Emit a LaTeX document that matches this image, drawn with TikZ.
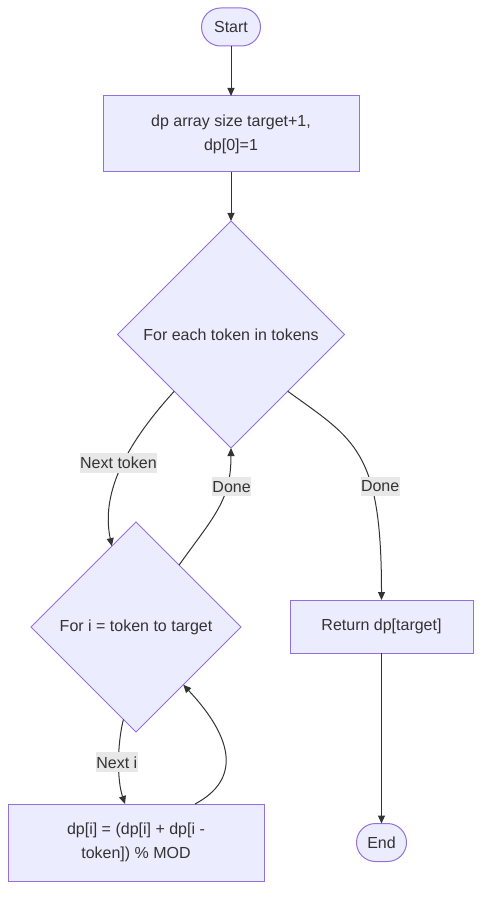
\documentclass[tikz,border=0pt]{standalone}
\usepackage{fontspec}
\setmainfont{Liberation Sans}
\usetikzlibrary{shapes.geometric}
\usetikzlibrary{calc}
\usetikzlibrary{positioning, arrows.meta}
\definecolor{boxfill}{HTML}{ECECFF}
\definecolor{boxline}{HTML}{9370DB}
\definecolor{edgeline}{HTML}{333333}
\definecolor{labelfill}{HTML}{E8E8E8}

\begin{document}
\begin{tikzpicture}[x=1pt, y=-1pt, font=\fontsize{16}{24}\selectfont, text=edgeline]
        % Define styles for shapes
        \tikzstyle{process} = [draw=boxline, fill=boxfill, line width=1pt, minimum width=256pt, minimum height=76pt, align=center, inner sep=0pt, outer sep=0pt]
        \tikzstyle{terminal} = [draw=boxline, fill=boxfill, line width=1pt, rounded corners=19pt, minimum height=38pt, inner xsep=10pt, outer sep=0pt]
        \tikzstyle{decision} = [draw=boxline, fill=boxfill, line width=1pt, diamond, aspect=1, inner sep=0pt, outer sep=0pt]
        \tikzstyle{flow} = [draw=edgeline, line width=1pt, -{Triangle[length=8pt, width=7pt]}]
        \tikzstyle{edgelabel} = [fill=labelfill, inner xsep=0.5pt, inner ysep=4pt, font=\fontsize{16}{18}\selectfont]
        \useasboundingbox (0,0) rectangle (489,904);
        % Draw shapes
        \node[terminal, minimum width=59pt] (start) at (231, 27) {Start};
        \node[process] (init) at (231, 134) {dp array size target+1,\\dp[0]=1};
        \node[decision, minimum width=227pt, minimum height=227pt] (outer) at (231, 334.5) {For each token in tokens};
        \node[decision, minimum width=210pt, minimum height=210pt] (inner) at (136, 627) {For i = token to target};
        \node[process, minimum width=183pt, minimum height=53pt] (ret) at (381.5, 626.5) {Return dp[target]};
        \node[process, minimum height=77pt] (update) at (136, 842.5) {dp[i] = (dp[i] + dp[i -\\token]) \% MOD};
        \node[terminal, minimum width=50pt] (end) at (381.5, 842.5) {End};

        % Draw arrows
        \draw[flow] (start) -- (init);
        \draw[flow] (init) -- (outer);
        \draw[flow] (outer.south west) .. controls (130, 440) and (100, 490) .. ($(inner.north)!0.23!(inner.west)$) node[pos=0.48, edgelabel, xshift=-5pt] {Next token};
        \draw[flow] ($(inner.north)!0.41!(inner.east)$) .. controls (215, 515) and (231, 500) .. (outer.south) node[pos=0.7, edgelabel, xshift=5pt] {Done};
        \draw[flow] (outer.south east) .. controls (355, 440) and (381.5, 450) .. (ret.north) node[pos=0.65, edgelabel, xshift=9pt] {Done};
        \draw[flow] ($(inner.south)!0.12!(inner.west)$) .. controls (117, 745) and (117, 780) .. ($(update.north)+(-11, 0)$) node[pos=0.5, edgelabel, xshift=-2pt] {Next i};
        \draw[flow] ($(update.north)+(59, 0)$) .. controls (240, 780) and (235, 740) .. ($(inner.south)!0.45!(inner.east)$);
        \draw[flow] (ret) -- (end);
    \end{tikzpicture}
\end{document}
